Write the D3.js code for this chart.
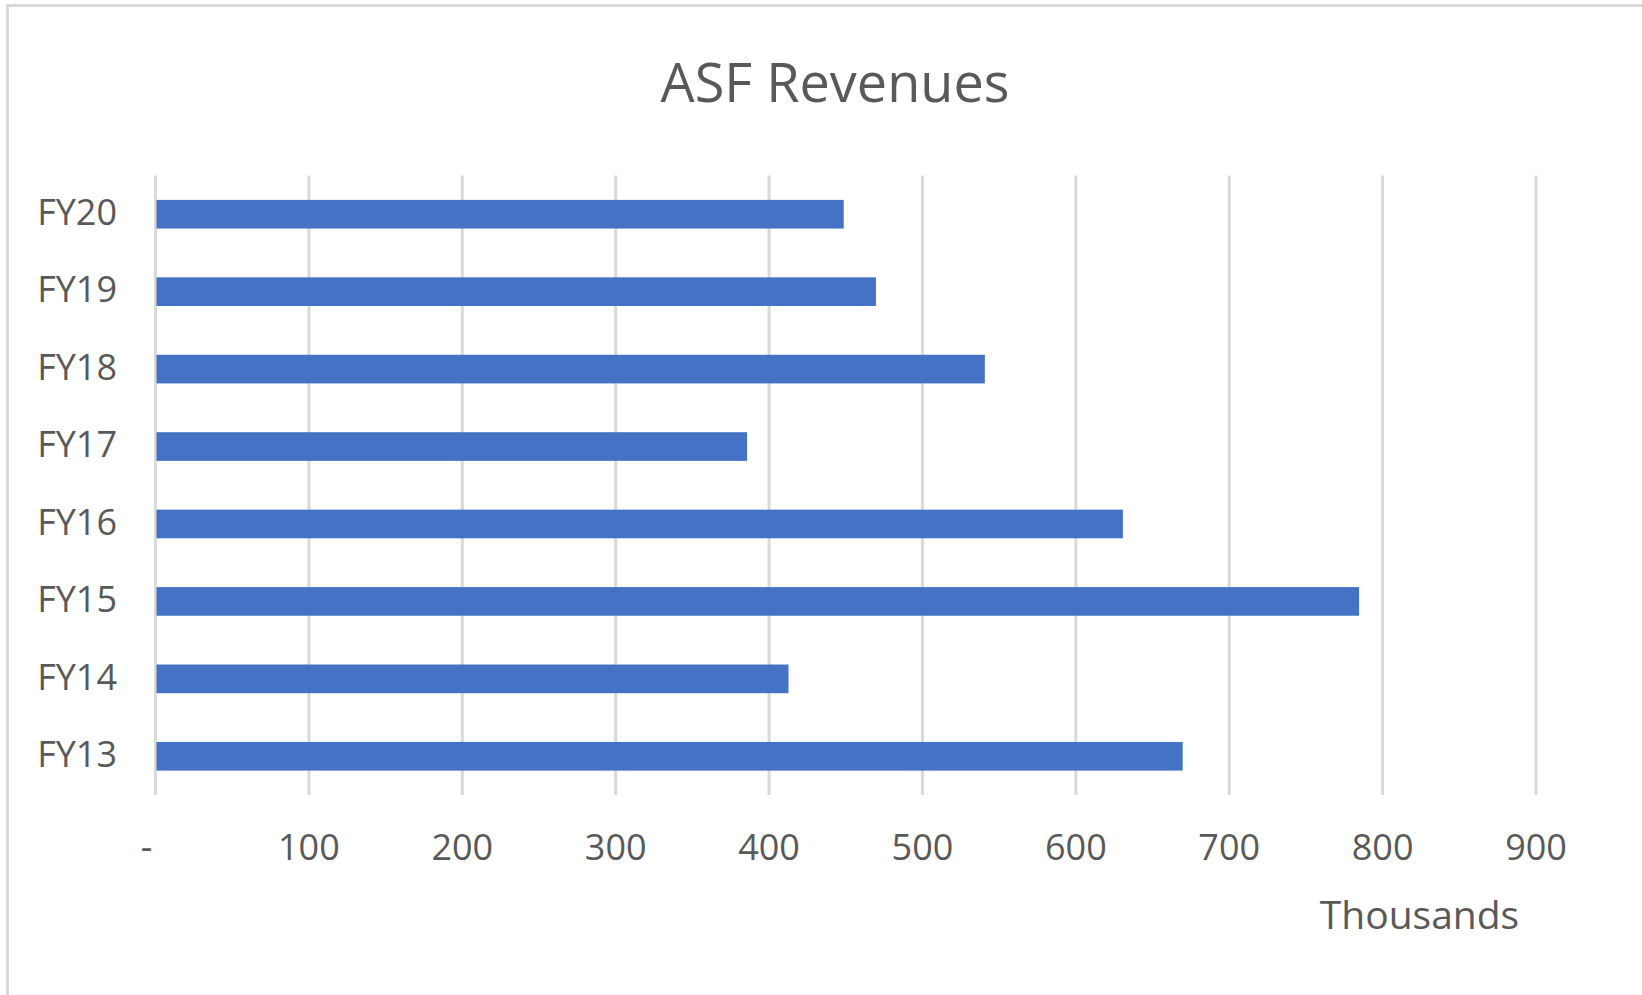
<!DOCTYPE html>
<html>
<head>
<meta charset="utf-8">
<script src="https://cdn.jsdelivr.net/npm/d3@7"></script>
<style>
  html, body { margin: 0; padding: 0; background: #ffffff; }
  svg { display: block; }
  text { font-family: "Open Sans", "Noto Sans", sans-serif; fill: #595959; }
</style>
</head>
<body>
<svg id="chart" width="1642" height="995"></svg>
<script>
// ---- Data ----
const categories = ["FY13", "FY14", "FY15", "FY16", "FY17", "FY18", "FY19", "FY20"];
const revenues = [670, 413, 785, 631, 386, 541, 470, 449]; // thousands
const xTicks = [0, 100, 200, 300, 400, 500, 600, 700, 800, 900];
const chartTitle = "ASF Revenues";
const unitLabel = "Thousands";

// ---- Layout ----
const W = 1642, H = 995;
const plot = { left: 155, right: 1535.5, top: 175.5, bottom: 795 };
const svg = d3.select("#chart");

// outer chart border (right/bottom run off the picture)
svg.append("rect")
  .attr("x", 7.5).attr("y", 5.5)
  .attr("width", W + 20).attr("height", H + 20)
  .attr("fill", "#ffffff")
  .attr("stroke", "#d9d9d9").attr("stroke-width", 3);

const x = d3.scaleLinear().domain([0, 900]).range([plot.left, plot.right]);
const y = d3.scaleBand()
  .domain(categories.slice().reverse())
  .range([plot.top, plot.bottom])
  .paddingInner(0.63)
  .paddingOuter(0.315);

// gridlines
const grid = svg.append("g")
  .attr("transform", `translate(0,${plot.bottom})`)
  .call(d3.axisBottom(x).tickValues(xTicks).tickSize(-(plot.bottom - plot.top)).tickFormat(""));
grid.select(".domain").remove();
grid.selectAll("line").attr("stroke", "#d9d9d9").attr("stroke-width", 3);

// bars
svg.append("g").selectAll("rect")
  .data(categories.map((c, i) => ({ c, v: revenues[i] })))
  .join("rect")
  .attr("x", x(0) + 1.5)
  .attr("y", d => y(d.c))
  .attr("width", d => x(d.v) - x(0) - 1.5)
  .attr("height", y.bandwidth())
  .attr("fill", "#4472c4");

// x-axis labels
const xAxis = svg.append("g")
  .attr("transform", `translate(0,${plot.bottom})`)
  .call(d3.axisBottom(x).tickValues(xTicks).tickSize(0)
    .tickFormat(d => d === 0 ? "-" : d3.format(",")(d)));
xAxis.select(".domain").remove();
xAxis.selectAll("text")
  .attr("y", 65).attr("dy", 0)
  .attr("dx", d => d === 0 ? -9 : 0)
  .style("font-size", "36px")
  .style("fill", "#595959");

// y-axis labels
const yAxis = svg.append("g")
  .attr("transform", `translate(${plot.left},0)`)
  .call(d3.axisLeft(y).tickSize(0).tickPadding(38));
yAxis.select(".domain").remove();
yAxis.selectAll("text")
  .attr("dy", "0.3em")
  .style("font-size", "36px")
  .style("fill", "#595959");

// title
svg.append("text")
  .attr("x", 835).attr("y", 101.5)
  .attr("text-anchor", "middle")
  .style("font-size", "54px")
  .text(chartTitle);

// display units label
svg.append("text")
  .attr("x", 1419.5).attr("y", 929)
  .attr("text-anchor", "middle")
  .style("font-size", "39px")
  .text(unitLabel);
</script>
</body>
</html>
